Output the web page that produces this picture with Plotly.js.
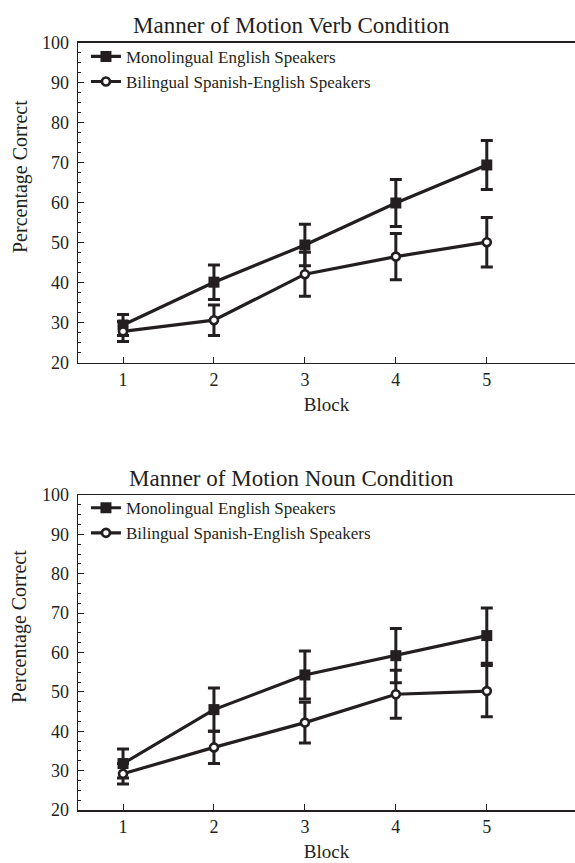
<!DOCTYPE html>
<html>
<head>
<meta charset="utf-8">
<script src="https://cdn.plot.ly/plotly-3.0.1.min.js"></script>
<style>html,body{margin:0;padding:0;background:#fff;}#chart{width:575px;height:863px;}</style>
</head>
<body>
<div id="chart"></div>
<script>
// Data
const blocks = [1, 2, 3, 4, 5];
const seriesNames = ["Monolingual English Speakers", "Bilingual Spanish-English Speakers"];

// Top panel: Manner of Motion Verb Condition
const verbMono = [29.5, 40.2, 49.5, 60.0, 69.5];
const verbMonoErr = [2.6, 4.3, 5.2, 5.9, 6.1];
const verbBi = [27.9, 30.7, 42.2, 46.6, 50.2];
const verbBiErr = [2.5, 3.8, 5.5, 5.8, 6.2];

// Bottom panel: Manner of Motion Noun Condition
const nounMono = [31.8, 45.5, 54.3, 59.2, 64.3];
const nounMonoErr = [3.7, 5.5, 6.1, 6.9, 7.0];
const nounBi = [29.2, 35.9, 42.2, 49.4, 50.2];
const nounBiErr = [2.6, 4.1, 5.2, 6.1, 6.5];

const panelTitles = ["Manner of Motion Verb Condition", "Manner of Motion Noun Condition"];
const xTitle = "Block";
const yTitle = "Percentage Correct";

const ink = "#231f20";
const fontFam = '"Liberation Serif", "Times New Roman", serif';

function trace(y, err, name, symbol, xa, ya, legend) {
  return {
    x: blocks, y: y, name: name, xaxis: xa, yaxis: ya, legend: legend,
    type: "scatter", mode: "lines+markers",
    line: {color: ink, width: 3.2},
    marker: symbol === "square"
      ? {symbol: "square", size: 11, color: ink, line: {width: 0}}
      : {symbol: "circle", size: 8, color: "#fff", line: {color: ink, width: 2.6}},
    error_y: {type: "data", array: err, visible: true, color: ink, thickness: 3, width: 6}
  };
}

const data = [
  trace(verbMono, verbMonoErr, seriesNames[0], "square", "x", "y", "legend"),
  trace(verbBi, verbBiErr, seriesNames[1], "circle", "x", "y", "legend"),
  trace(nounMono, nounMonoErr, seriesNames[0], "square", "x2", "y2", "legend2"),
  trace(nounBi, nounBiErr, seriesNames[1], "circle", "x2", "y2", "legend2")
];

function xAxis(anchor) {
  return {
    anchor: anchor, domain: [0, 1], range: [0.505, 5.97],
    tickvals: blocks, ticks: "inside", ticklen: 6, tickwidth: 1, tickcolor: ink,
    showline: true, linecolor: ink, linewidth: 1.5, mirror: true,
    showgrid: false, zeroline: false,
    tickfont: {family: fontFam, size: 18, color: ink},
    title: {text: xTitle, font: {family: fontFam, size: 19, color: ink}, standoff: 8}
  };
}
function yAxis(anchor, domain) {
  return {
    anchor: anchor, domain: domain, range: [20, 100],
    dtick: 10, tick0: 0, ticks: "inside", ticklen: 6, tickwidth: 1, tickcolor: ink,
    minor: {dtick: 2.5, ticks: "inside", ticklen: 3, tickwidth: 1, tickcolor: ink},
    showline: true, linecolor: ink, linewidth: 1.5,
    showgrid: false, zeroline: false, ticklabelstandoff: 4,
    tickfont: {family: fontFam, size: 18, color: ink}
  };
}

const legendBase = {
  xref: "paper", yref: "paper", xanchor: "left", yanchor: "top",
  bgcolor: "rgba(0,0,0,0)", borderwidth: 0,
  font: {family: fontFam, size: 17, color: ink},
  tracegroupgap: 0
};

function yTitleAnn(y) {
  return {text: yTitle, xref: "paper", yref: "paper", x: -0.1167, y: y,
    xanchor: "center", yanchor: "middle", textangle: -90, showarrow: false,
    font: {family: fontFam, size: 20, color: ink}};
}

const layout = {
  width: 575, height: 863,
  margin: {l: 78, r: 0, t: 0, b: 0},
  paper_bgcolor: "#fff", plot_bgcolor: "#fff",
  font: {family: fontFam, color: ink},
  xaxis: xAxis("y"),
  yaxis: yAxis("x", [0.5794, 0.9502]),
  xaxis2: xAxis("y2"),
  yaxis2: yAxis("x2", [0.0614, 0.4264]),
  legend: Object.assign({}, legendBase, {x: 0.016, y: 0.955}),
  legend2: Object.assign({}, legendBase, {x: 0.016, y: 0.432}),
  annotations: [
    {text: panelTitles[0], xref: "paper", yref: "paper", x: 0.4286, y: 0.971,
     xanchor: "center", yanchor: "middle", showarrow: false,
     font: {family: fontFam, size: 23, color: ink}},
    {text: panelTitles[1], xref: "paper", yref: "paper", x: 0.4286, y: 0.446,
     xanchor: "center", yanchor: "middle", showarrow: false,
     font: {family: fontFam, size: 23, color: ink}},
    yTitleAnn(0.7949),
    yTitleAnn(0.2735)
  ]
};

Plotly.newPlot("chart", data, layout, {displayModeBar: false, staticPlot: true});
</script>
</body>
</html>
